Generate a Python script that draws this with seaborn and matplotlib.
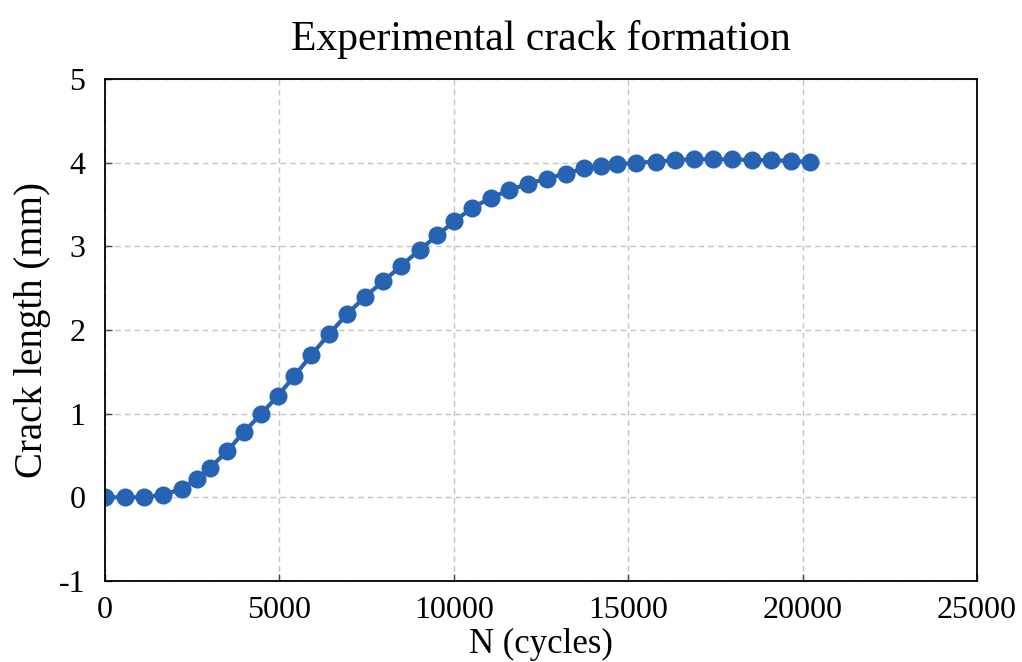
import matplotlib
matplotlib.use("Agg")
import matplotlib.pyplot as plt
import seaborn as sns
import pandas as pd

cycles = [0, 570, 1125, 1670, 2195, 2640, 3005, 3500, 3980, 4465,
          4950, 5430, 5915, 6420, 6945, 7460, 7975, 8500, 9025, 9530,
          10015, 10530, 11060, 11590, 12135, 12680, 13210, 13730, 14225, 14680,
          15235, 15790, 16340, 16885, 17430, 17980, 18535, 19090, 19655, 20205]
crack_mm = [0.0, 0.0, 0.0, 0.03, 0.10, 0.22, 0.35, 0.55, 0.78, 0.99,
            1.21, 1.45, 1.70, 1.95, 2.19, 2.40, 2.58, 2.77, 2.96, 3.13,
            3.30, 3.46, 3.58, 3.67, 3.75, 3.81, 3.87, 3.93, 3.96, 3.98,
            4.00, 4.01, 4.03, 4.04, 4.04, 4.04, 4.03, 4.03, 4.02, 4.01]
x_ticks = [0, 5000, 10000, 15000, 20000, 25000]
y_ticks = [-1, 0, 1, 2, 3, 4, 5]

df = pd.DataFrame({"N": cycles, "crack": crack_mm})

sns.set_theme(style="whitegrid")
plt.rcParams["font.family"] = ["Liberation Serif", "DejaVu Serif"]

fig = plt.figure(figsize=(10.22, 6.62), dpi=100)
ax = fig.add_axes([0.1027, 0.1224, 0.8533, 0.7583])

color = "#2663B3"
sns.lineplot(data=df, x="N", y="crack", ax=ax, color=color, linewidth=3.0,
             marker="o", markersize=13, markeredgewidth=0,
             markerfacecolor=color)

ax.set_xlim(0, 25000)
ax.set_ylim(-1, 5)
ax.set_xticks(x_ticks)
ax.set_yticks(y_ticks)
ax.set_xticklabels([str(v) for v in x_ticks])
ax.set_yticklabels([str(v) for v in y_ticks])

ax.grid(True, color="#c4c4c4", linestyle=(0, (4, 3)), linewidth=1.0)
ax.set_facecolor("white")
for s in ax.spines.values():
    s.set_visible(True)
    s.set_color("black")
    s.set_linewidth(1.3)

ax.tick_params(axis="both", which="major", direction="in", length=5,
               width=1.0, color="#444444", labelsize=23, labelcolor="black")
ax.tick_params(axis="y", pad=14)
ax.tick_params(axis="x", pad=11)
ax.tick_params(top=False, right=False, bottom=True, left=True)

ax.set_xlabel("N (cycles)", fontsize=25, color="black", labelpad=2)
ax.set_ylabel("Crack length (mm)", fontsize=28, color="black", labelpad=6)
ax.set_title("Experimental crack formation", fontsize=30, color="black", pad=21)

fig.savefig("out.png", dpi=100, facecolor="white")
